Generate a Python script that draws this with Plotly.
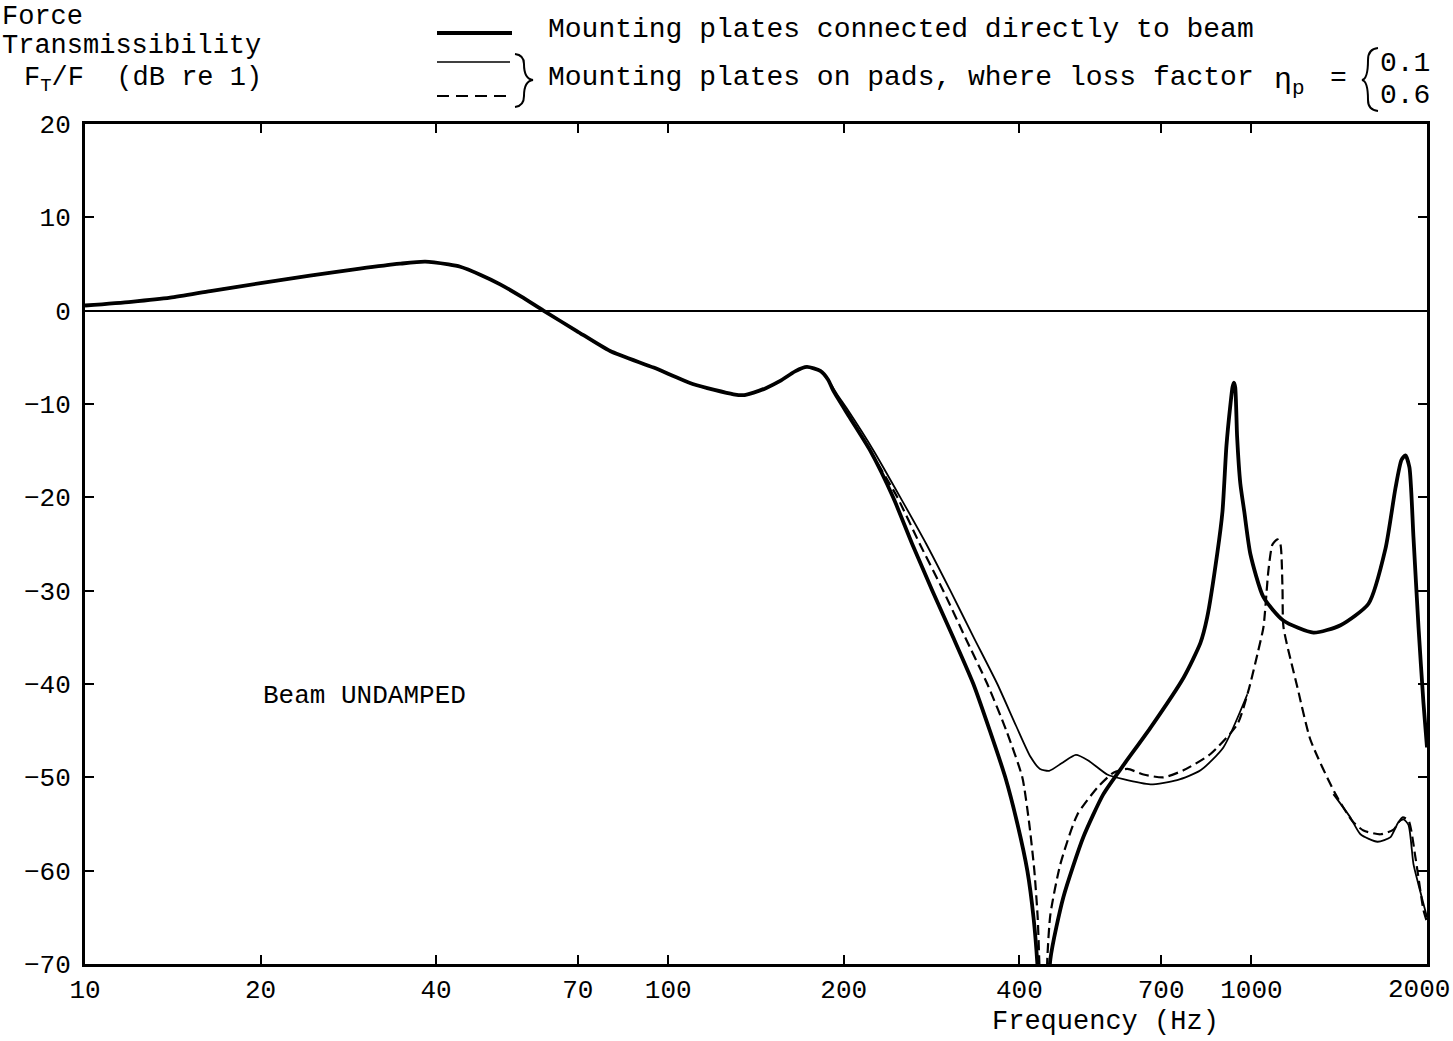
import plotly.graph_objects as go

# ---------------- data ----------------
# part shared by all three curves (10 Hz - ~190 Hz)
freq_common = [10, 12, 14, 16.4, 20, 24.3, 29.6, 34.7, 38.3, 42, 44, 47.6, 51.5, 56,
               61.1, 69.7, 79.5, 94.4, 110.5, 129.4, 135, 140.1, 147, 155.6, 165,
               172.9, 182.3, 188]
db_common = [0.55, 0.95, 1.39, 2.1, 2.95, 3.75, 4.5, 5.03, 5.25, 4.95, 4.7, 3.85, 2.82, 1.5,
             0.0, -2.18, -4.32, -6.1, -7.89, -8.96, -9.05, -8.78, -8.3, -7.53, -6.5,
             -6.03, -6.46, -7.4]

# mounting plates connected directly to beam (thick solid)
freq_direct = [192, 205, 222, 243, 262, 283.7, 308, 333.6, 356, 378.4, 397, 412.8, 423, 429.5,
               440, 452.1, 475.9, 515, 557.4, 603.3, 671, 765.3, 817.6, 839.5, 873.4,
               892, 906, 920.6, 928, 933, 938, 945, 957, 972, 996, 1048.6, 1134, 1277.5,
               1421.6, 1587.6, 1697.6, 1766, 1808, 1837, 1866, 1896, 1934, 1972, 2000]
db_direct = [-8.6, -11.5, -15.0, -20.0, -25.0, -30.0, -35.0, -40.0, -45.0, -50.0, -55.0, -60.0,
             -65.0, -70.0, -85.0, -69.5, -62.85, -56.4, -51.8, -48.7, -44.7, -39.3, -35.6,
             -32.9, -26.1, -21.5, -14.5, -10.0, -8.2, -7.7, -8.2, -13.5, -18.5, -21.5, -26.1,
             -30.7, -33.2, -34.5, -33.7, -31.4, -25.5, -19.0, -16.0, -15.5, -16.8, -24.3,
             -33.9, -42.0, -46.8]

# mounting plates on pads, loss factor 0.1 (thin solid); None = hidden under the dashed curve
freq_pad01 = [195, 203, 225, 250, 277, 304.6, 334, 366.7, 395, 418, 434, 450, 475, 500, 525,
              566, 603, 671, 746, 818, 895, 984, 1100,
              1382, 1478, 1538, 1645, 1732, 1787, 1823, 1859, 1896, 1934, 2000]
db_pad01 = [-9.0, -10.6, -15.0, -20.0, -25.0, -30.0, -35.0, -40.0, -44.5, -47.8, -49.1, -49.3,
            -48.4, -47.6, -48.2, -49.7, -50.2, -50.75, -50.3, -49.25, -46.8, -41.1, None,
            -51.8, -54.3, -56.1, -56.9, -56.4, -54.8, -54.5, -55.1, -59.3, -61.5, -65.0]

# mounting plates on pads, loss factor 0.6 (dashed)
freq_pad06 = [192, 197, 220, 247.1, 270, 296.2, 323, 352.5, 380, 404.7, 416, 424.4, 430, 432.9,
              440, 446.8, 452.1, 470.3, 502.9, 544.4, 579.9, 612.9, 652.9, 706.6, 764.3, 850.6,
              946.2, 988.3, 1024, 1048.6, 1069.5, 1086.5, 1108.2, 1121.4, 1130.4, 1134.9,
              1199.5, 1262.7, 1393.6, 1490.3, 1556.5, 1664.6, 1752.3, 1815.5, 1859, 1911,
              1972, 2000]
db_pad06 = [-8.6, -9.6, -14.6, -20.0, -25.0, -30.0, -35.0, -40.0, -45.0, -50.0, -55.0, -60.0,
            -65.0, -70.0, -85.0, -69.3, -64.7, -59.3, -54.0, -51.1, -49.5, -49.1, -49.7, -50.0,
            -49.25, -47.5, -44.3, -40.7, -36.8, -33.9, -27.8, -25.05, -24.5, -25.05, -29.7,
            -33.9, -40.4, -46.0, -51.8, -54.7, -55.7, -56.1, -55.6, -54.3, -54.6, -58.6,
            -64.2, -65.5]

x_tick_vals = [10, 20, 40, 70, 100, 200, 400, 700, 1000, 2000]
# the last label sits at the page edge; it is drawn as an annotation below
x_tick_text = ["10", "20", "40", "70", "100", "200", "400", "700", "1000", ""]
x_last_label = "2000"
y_tick_vals = [20, 10, 0, -10, -20, -30, -40, -50, -60, -70]

# ---------------- figure ----------------
FONT = "Liberation Mono"
W, H = 1453, 1041
# plot area in page pixels
L, R, T, B = 85, 1427, 124, 964


def px(x):
    return (x - L) / (R - L)


def py(y):
    return (B - y) / (B - T)


fig = go.Figure()

series = [
    (freq_common + freq_pad06, db_common + db_pad06, dict(color="black", width=2.2, dash="10px,5px")),
    (freq_common + freq_pad01, db_common + db_pad01, dict(color="black", width=1.8)),
    (freq_common + freq_direct, db_common + db_direct, dict(color="black", width=3.8)),
]
for fx, fy, ln in series:
    fig.add_trace(go.Scatter(x=fx, y=fy, mode="lines", line=dict(shape="spline", smoothing=0.6, **ln),
                             connectgaps=False, showlegend=False, hoverinfo="skip"))

fig.update_layout(
    width=W, height=H,
    margin=dict(l=L, r=W - R, t=T, b=H - B, autoexpand=False),
    paper_bgcolor="white", plot_bgcolor="white",
    font=dict(family=FONT, color="black", size=27),
    showlegend=False,
)
fig.update_xaxes(
    type="log", range=[1, 3.30103], automargin=False,
    tickvals=x_tick_vals, ticktext=x_tick_text,
    ticks="inside", ticklen=9, tickwidth=2, tickcolor="black",
    showline=True, linewidth=3, linecolor="black", mirror="allticks",
    showgrid=False, zeroline=False,
    tickfont=dict(family=FONT, size=26),
)
fig.update_yaxes(
    range=[-70, 20], automargin=False,
    tickvals=y_tick_vals,
    ticktext=[("\u2212" + str(abs(v))) if v < 0 else str(v) for v in y_tick_vals],
    ticks="inside", ticklen=9, tickwidth=2, tickcolor="black",
    showline=True, linewidth=3, linecolor="black", mirror="allticks",
    showgrid=False, zeroline=True, zerolinecolor="black", zerolinewidth=1.5,
    tickfont=dict(family=FONT, size=26), ticklabelstandoff=6,
)

NB = "\u00a0"
ann = []


def text(s, x, y, anchor="left", size=27):
    ann.append(dict(text=s, x=px(x), y=py(y), xref="paper", yref="paper",
                    xanchor=anchor, yanchor="middle", showarrow=False,
                    font=dict(family=FONT, size=size, color="black")))


text("Force", 0, 17)
text("Transmissibility", 0, 46)
text("F<sub>T</sub>/F" + NB * 2 + "(dB re 1)", 22, 80)
text("Mounting plates connected directly to beam", 546, 30, size=28)
text("Mounting plates on pads, where loss factor", 546, 78, size=28)
text("\u03b7<sub>p</sub>", 1272, 82, size=30)
text("=", 1328, 79, size=28)
text("0.1", 1378, 63, size=28)
text("0.6", 1378, 96, size=28)
text("Beam UNDAMPED", 261, 696, size=26)
text("Frequency" + NB + "(Hz)", 1105, 1022, anchor="center", size=27)
text(x_last_label, 1452, 990, anchor="right", size=26)
fig.update_layout(annotations=ann)

shapes = []


def seg(x0, y0, x1, y1, width, dash="solid"):
    shapes.append(dict(type="line", xref="paper", yref="paper",
                       x0=px(x0), y0=py(y0), x1=px(x1), y1=py(y1),
                       line=dict(color="black", width=width, dash=dash)))


seg(437, 33, 512, 33, 4)
seg(437, 62, 510, 62, 1.6)
seg(437, 96, 512, 96, 2, dash="12px,7px")


def brace(points):
    d = "M {:.5f},{:.5f}".format(px(points[0][0]), py(points[0][1]))
    for (cx, cy), (ex, ey) in zip(points[1::2], points[2::2]):
        d += " Q {:.5f},{:.5f} {:.5f},{:.5f}".format(px(cx), py(cy), px(ex), py(ey))
    shapes.append(dict(type="path", xref="paper", yref="paper", path=d,
                       line=dict(color="black", width=2)))


# right brace "}" after the legend samples
brace([(515, 54), (524, 55), (524, 64), (524, 79), (533, 80), (524, 81), (524, 96),
       (524, 106), (515, 107)])
# left brace "{" before 0.1 / 0.6
brace([(1378, 48), (1368, 49), (1368, 60), (1368, 79), (1362, 80), (1368, 81), (1368, 100),
       (1368, 110), (1378, 111)])
fig.update_layout(shapes=shapes)

fig.write_html(
    "out.html",
    config={"displayModeBar": False},
    post_script="document.body.style.margin='0';document.body.style.overflow='hidden';",
)
